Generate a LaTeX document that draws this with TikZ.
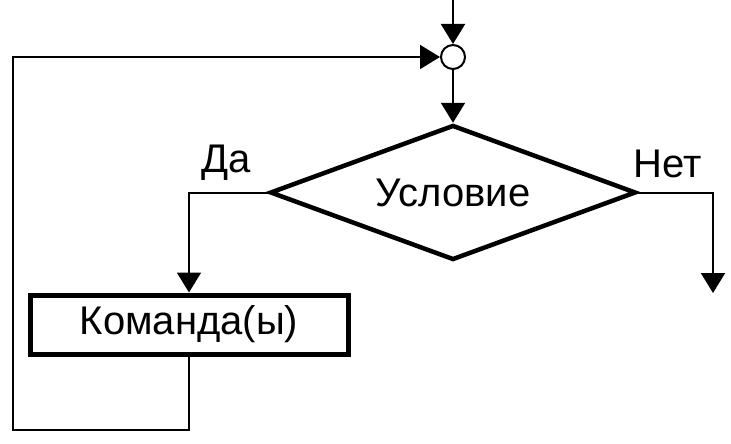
\documentclass[tikz,border=0pt]{standalone}
\usepackage{fontspec}
\setmainfont{Liberation Sans}
\usetikzlibrary{shapes.geometric,arrows.meta}
\begin{document}
\begin{tikzpicture}[x=1pt,y=-1pt,
  flow/.style={line width=2pt,-{Triangle[length=20pt,width=24pt]}},
  junction/.style={circle,draw,line width=2pt,minimum size=24pt,inner sep=0pt,fill=white},
  decision/.style={diamond,draw,line width=4.5pt,minimum width=366pt,minimum height=135pt,inner sep=0pt,shape aspect=2.71},
  process/.style={rectangle,draw,line width=5pt,minimum width=318pt,minimum height=59pt,inner sep=0pt},
  lbl/.style={font=\fontsize{40}{46}\selectfont,inner sep=0pt}]
\useasboundingbox (0,0) rectangle (731,444);
\node[junction] (j) at (453,57) {};
\node[decision] (c) at (453,192.5) {};
\node[lbl] at (c.center) {Условие};
\node[process] (p) at (189,324.5) {};
\node[lbl] at (p.center) {Команда(ы)};
\node[lbl] (yes) at (226,163) {Да};
\node[lbl] (no) at (668,164) {Нет};
\coordinate (in) at (453,0);
\coordinate (out) at (713,293);
\coordinate (lb) at (13,430);
\draw[flow] (in) -- (j.north);
\draw[flow] (j.south) -- (c.north);
\draw[flow] (c.west) -| (p.north);
\draw[flow] (c.east) -| (out);
\draw[flow] (p.south) |- (lb) |- (j.west);
\end{tikzpicture}
\end{document}
